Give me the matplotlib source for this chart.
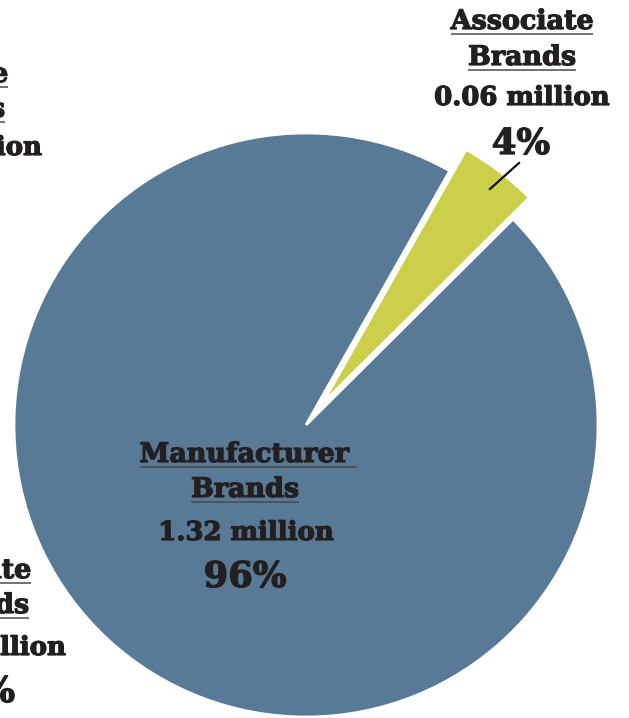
# Pie of brand share with hand-placed slab-serif labels

import matplotlib
matplotlib.use('Agg')
import matplotlib.pyplot as plt
import matplotlib.patheffects as pe

W, H = 629, 718

categories = ['Manufacturer\nBrands', 'Associate\nBrands']
values = [1.32, 0.06]          # millions
percents = ['96%', '4%']
colors = ['#587a96', '#cbcf49']

TEXT = '#231f20'
RULE = '#4a4a4a'
FONT = 'DejaVu Serif'


def px(y):
    # image rows run downwards, data y runs upwards
    return H - y


fig = plt.figure(figsize=(W / 100, H / 100), dpi=100)
ax = fig.add_axes([0, 0, 1, 1])

# explode is in data units here (pixels), not a fraction of the radius
ax.pie(values, colors=colors, startangle=60.5, counterclock=True,
       explode=[0, 27], radius=292, center=(306, px(425)),
       wedgeprops=dict(edgecolor='white', linewidth=2))
ax.set_xlim(0, W)
ax.set_ylim(0, H)
ax.set_aspect('equal')
ax.axis('off')

renderer = fig.canvas.get_renderer()
heavy = [pe.withStroke(linewidth=0.9, foreground=TEXT)]


def label(x, y, s, size, ha='center', underline=False, ext=0):
    t = ax.text(x, px(y), s, ha=ha, va='baseline', fontsize=size,
                fontweight='bold', family=FONT, color=TEXT,
                path_effects=heavy)
    if underline:
        bb = t.get_window_extent(renderer).transformed(ax.transData.inverted())
        ax.plot([bb.x0, bb.x1 + ext], [px(y + 5)] * 2, color=RULE, lw=1.1,
                solid_capstyle='butt')
    return t


HEAD, SUB, PCT = 19.4, 18.7, 25.5

# Associate Brands (exploded slice)
label(522, 29, 'Associate', HEAD, underline=True)
label(522, 65, 'Brands', HEAD, underline=True)
label(522, 105, f'{values[1]:.2f} million', SUB)
label(521, 154, percents[1], PCT)
ax.plot([490, 519], [px(189), px(163)], color='#111111', lw=1.6)

# Manufacturer Brands (main slice)
label(244, 462, 'Manufacturer', HEAD, underline=True, ext=8)
label(245, 497, 'Brands', HEAD, underline=True)
label(246, 540, f'{values[0]:.2f} million', SUB)
label(245, 587, percents[0], PCT)

# neighbouring charts' labels running in from the left edge
label(8, 82, 'Associate', HEAD, ha='right', underline=True)
label(5, 117, 'Brands', HEAD, ha='right', underline=True)
label(42, 155, 'million', SUB, ha='right')

label(31, 578, 'Associate', HEAD, ha='right', underline=True)
label(29, 613, 'Brands', HEAD, ha='right', underline=True)
label(66, 655, 'million', SUB, ha='right')
label(15, 702, '%', PCT, ha='right')

fig.savefig('out.png', dpi=100)
plt.close(fig)
